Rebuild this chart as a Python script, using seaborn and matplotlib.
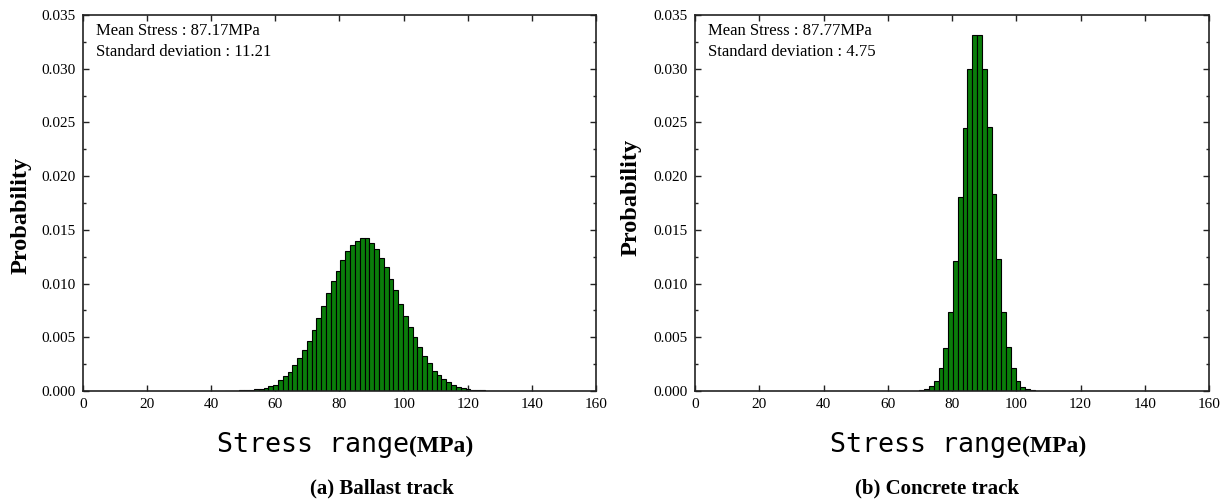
import numpy as np
import pandas as pd
import seaborn as sns
import matplotlib.pyplot as plt
from matplotlib.ticker import MultipleLocator, FormatStrFormatter

# bin settings (1.5 MPa bins)
bin_width = 1.5

# (a) ballast track: first bin edge and bin probabilities
ballast_start = 44.3
ballast_prob = [0.00002, 0.00003, 0.00004, 0.00006, 0.00008,
                0.0001, 0.00015, 0.0002, 0.0003, 0.0005, 0.0006, 0.0010, 0.0014,
                0.0018, 0.0024, 0.0031, 0.0038, 0.0047, 0.0057, 0.0068, 0.0079,
                0.0091, 0.0102, 0.0112, 0.0122, 0.0130, 0.0136, 0.0140, 0.0142,
                0.0142, 0.0138, 0.0132, 0.0124, 0.0115, 0.0104, 0.0094, 0.0081,
                0.0070, 0.0060, 0.0050, 0.0041, 0.0033, 0.0026, 0.0019, 0.0015,
                0.0011, 0.0008, 0.0006, 0.0004, 0.00025, 0.00015, 0.0001,
                0.00007, 0.00005, 0.00003, 0.00002, 0.00001]

# (b) concrete track
concrete_start = 69.8
concrete_prob = [0.0001, 0.0002, 0.0005, 0.0009, 0.0021, 0.0040, 0.0074, 0.0121,
                 0.0181, 0.0245, 0.0300, 0.0331, 0.0331, 0.0300, 0.0246, 0.0183,
                 0.0123, 0.0074, 0.0041, 0.0021, 0.0009, 0.0004, 0.0002, 0.0001]

panels = [
    {"start": ballast_start, "prob": ballast_prob,
     "lines": ["Mean Stress : 87.17MPa", "Standard deviation : 11.21"],
     "caption": "(a) Ballast track"},
    {"start": concrete_start, "prob": concrete_prob,
     "lines": ["Mean Stress : 87.77MPa", "Standard deviation : 4.75"],
     "caption": "(b) Concrete track"},
]

sns.set_style("ticks")
plt.rcParams['font.family'] = ['Liberation Serif', 'DejaVu Serif']
plt.rcParams['text.color'] = 'black'
plt.rcParams['xtick.color'] = 'black'
plt.rcParams['ytick.color'] = 'black'

W, H = 1230, 501
fig = plt.figure(figsize=(12.3, 5.01), dpi=100)

ax_px = [(83, 596), (695, 1209)]   # axes left/right in pixels
ax_top, ax_bot = 15, 391
ylab_pos = [(21, 215), (631, 197)]
cap_x = [382, 937]

bar_color = '#0a7d0a'

label_parts = []
for i, p in enumerate(panels):
    x0, x1 = ax_px[i]
    ax = fig.add_axes([x0 / W, 1 - ax_bot / H, (x1 - x0) / W, (ax_bot - ax_top) / H])
    n = len(p["prob"])
    edges = p["start"] + bin_width * np.arange(n + 1)
    df = pd.DataFrame({"stress": (edges[:-1] + edges[1:]) / 2,
                       "prob": p["prob"]})
    sns.histplot(data=df, x="stress", weights="prob", bins=list(edges), ax=ax,
                 color=bar_color, edgecolor='black', linewidth=0.8, alpha=1.0)

    ax.set_xlim(0, 160)
    ax.set_ylim(0, 0.035)
    ax.xaxis.set_major_locator(MultipleLocator(20))
    ax.yaxis.set_major_locator(MultipleLocator(0.005))
    ax.yaxis.set_minor_locator(MultipleLocator(0.0025))
    ax.yaxis.set_major_formatter(FormatStrFormatter('%.3f'))
    ax.tick_params(which='both', direction='in', top=True, right=True,
                   labelsize=11, color='#222222', width=1.0)
    ax.tick_params(which='major', length=4.5, pad=5)
    ax.tick_params(which='minor', length=2.5)
    for s in ax.spines.values():
        s.set_visible(True)
        s.set_linewidth(1.2)
        s.set_color('#222222')
    ax.set_xlabel('')
    ax.set_ylabel('')

    ax.text(0.025, 0.947, p["lines"][0], transform=ax.transAxes,
            fontsize=12, va='baseline', ha='left')
    ax.text(0.025, 0.891, p["lines"][1], transform=ax.transAxes,
            fontsize=12, va='baseline', ha='left')

    lx, ly = ylab_pos[i]
    fig.text(lx / W, 1 - ly / H, 'Probability', rotation=90, fontsize=17.5,
             fontweight='bold', ha='center', va='center')

    # x label: mono part + bold serif part, centred together under the axes
    cx = (x0 + x1) / 2 + 6
    t1 = fig.text(cx / W, 1 - 452 / H, 'Stress range', family='DejaVu Sans Mono',
                  fontsize=19.2, ha='right', va='baseline')
    t2 = fig.text(cx / W, 1 - 452 / H, '(MPa)', fontsize=17, fontweight='bold',
                  ha='left', va='baseline')
    label_parts.append((cx, t1, t2))

    fig.text(cap_x[i] / W, 1 - 488 / H, p["caption"], fontsize=15,
             fontweight='bold', ha='center', va='center')

fig.canvas.draw()
r = fig.canvas.get_renderer()
for cx, t1, t2 in label_parts:
    w1 = t1.get_window_extent(r).width
    w2 = t2.get_window_extent(r).width
    x = cx - (w2 - w1) / 2
    t1.set_x(x / W)
    t2.set_x(x / W)

fig.savefig('out.png', dpi=100, facecolor='white')
